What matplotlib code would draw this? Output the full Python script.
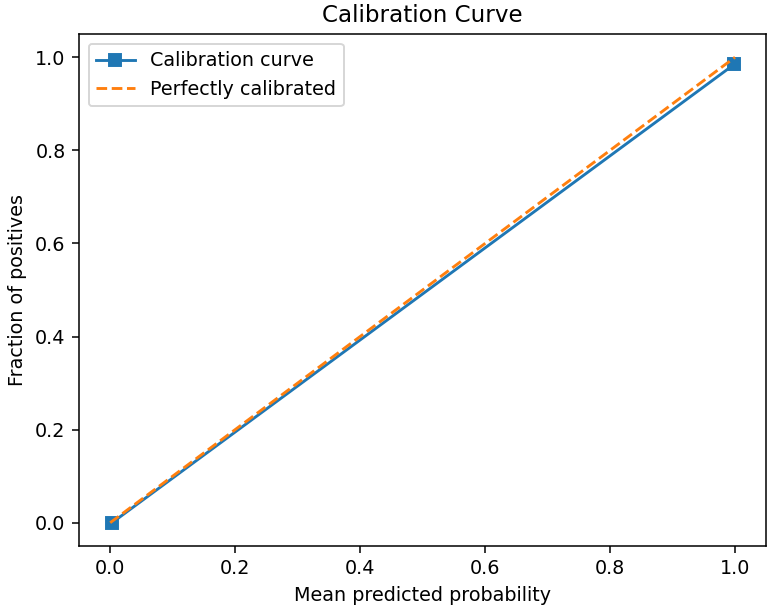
import matplotlib
matplotlib.use('Agg')
import matplotlib.pyplot as plt

# calibration curve points (mean predicted prob, fraction of positives)
mean_pred = [0.003, 0.999]
frac_pos = [0.0, 0.985]
perfect = [0, 1]

dpi = 138
fig = plt.figure(figsize=(774 / dpi, 611 / dpi), dpi=dpi)
ax = fig.add_axes([0.102, 0.1064, 0.888, 0.838])
ax.plot(mean_pred, frac_pos, marker='s', label='Calibration curve')
ax.plot(perfect, perfect, linestyle='--', label='Perfectly calibrated')
ax.set_xlabel('Mean predicted probability')
ax.set_ylabel('Fraction of positives')
ax.set_title('Calibration Curve')
ax.legend(loc='upper left')
fig.savefig('out.png', dpi=dpi)
